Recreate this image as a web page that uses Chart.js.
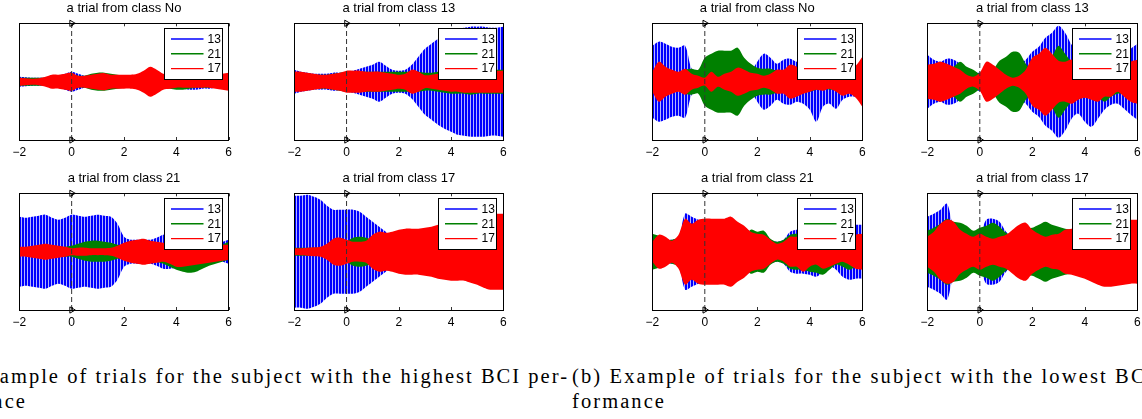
<!DOCTYPE html>
<html><head><meta charset="utf-8">
<script src="https://cdn.jsdelivr.net/npm/chart.js@4.4.1/dist/chart.umd.min.js"></script>
<style>
html,body{margin:0;padding:0;background:#fff;}
body{width:1142px;height:419px;overflow:hidden;position:relative;}
canvas{position:absolute;}
.cap{position:absolute;font-family:'Liberation Serif','Times New Roman',serif;font-size:20.5px;line-height:20.5px;white-space:nowrap;color:#000;}
</style></head><body>
<div class="cap" id="capA1"></div>
<div class="cap" id="capA2"></div>
<div class="cap" id="capB1"></div>
<div class="cap" id="capB2"></div>
<script>
// ---------------- data ----------------
const timeAxis = [-2,-1.75,-1.5,-1.25,-1,-0.75,-0.5,-0.25,0,0.25,0.5,0.75,1,1.25,1.5,1.75,2,2.25,2.5,2.75,3,3.25,3.5,3.75,4,4.25,4.5,4.75,5,5.25,5.5,5.75,6];
const xTicks = [-2,0,2,4,6];
const yLimits = [-58.35, 58.35];
const onsetTime = 0;
const seriesNames = ['13','21','17'];
const panelTitles = ['a trial from class No','a trial from class 13','a trial from class 21','a trial from class 17',
                     'a trial from class No','a trial from class 13','a trial from class 21','a trial from class 17'];
const captionA = ['(a) Example of trials for the subject with the highest BCI per-','formance'];
const captionB = ['(b) Example of trials for the subject with the lowest BCI per-','formance'];

// envelope amplitudes (upper; lower = -upper unless a _lo array is given)
const A_No_13 = [5,4.5,4,4,4,5,6,8,10,8,6,6,6,6,6,6,6,6,6,6,6,6,6,6,6,7,8,8,7,7,6,6,7];
const A_No_21 = [4,4,4,4,4,5,5,6,7,6,6,8,9,9,8,7,6,6,6,6,6,6,6,7,8,8,7,6,6,6,6,6,6];
const A_No_17 = [4,3.5,3,3.5,5,7,7,8,9,6,6,7,8,8.5,7,7,7,7,8,11,15,12,8,7,6,6,6,6,6,6,7,8,9];

const A_13_13 = [12,10,9,8,8,8,9,9,10,11,13,15,17,20,16,12,11,12,17,25,33,38,43,47,50,53,54,55,55,55,54,54,55];
const A_13_21 = [9,9,8,7,7,7,8,9,10,10,10,10,10,10,10,10,10,10,10,10,9,9,10,11,12,12,12,13,12,12,12,12,12];
const A_13_17 = [10,10,9,8,7,7,8,9,11,11,11,10,10,10,9,8,7,8,12,10,6.5,7,8,9,10,10,11,11,11,11,11,11,11];

const A_21_13 = [35,34,35,36,37,34,32,34,37,36,35,36,37,36,35,28,15,12,12,12,12,14,17,17,16,14,12,11,10,10,10,10,12];
const A_21_21 = [4,4,4,4,4,4,4,5,6,8,10,11,11,10,9,7,6,6,7,8,8,8,6,3,2,2,2,2,2,3,5,7,10];
const A_21_21_lo = [-4,-4,-4,-4,-4,-4,-4,-5,-5,-7,-9,-10,-10,-10,-9,-7,-6,-6,-7,-8,-9,-10,-12,-15,-18,-20,-21,-20,-17,-14,-12,-10,-8];
const A_21_17 = [5,5,6,7,8,7,6,5,3.5,4,4,3.5,3.5,3.5,4,6,9,11,12,13,11,10,9,7,5,4,4,4,4,6,8,7,7];
const A_21_17_lo = [-5,-5,-6,-7,-8,-7,-6,-5,-3.5,-4,-4,-3.5,-3.5,-3.5,-4,-6,-9,-11,-12,-13,-12,-11,-10,-12,-15,-15,-14,-13,-12,-11,-10,-9,-8];

const A_17_13 = [56,56,57,55,52,46,42,42,42,42,40,35,30,25,20,15,10,8,8,8,8,8,8,8,8,8,8,8,8,8,8,8,8];
const A_17_21 = [4,4,4,4,4,4,4,6,10,14,15,14,12,10,8,8,8,8,8,8,8,8,8,8,8,8,8,8,8,8,8,8,8];
const A_17_17 = [3.5,3.5,4,4.5,5,8,13,14,12,10,10,11,17,20,19,20,22,23,23,23,24,25,27,28,29,29,29,31,33,36,38,38,38];

const B_No_13 = [36,40,38,35,34,36,13,10,8,8,8,8,8,8,8,10,20,28,24,18,22,23,20,22,28,40,25,22,27,18,15,15,15];
const B_No_21 = [8,8,8,8,8,12,13,12,24,28,31,31,31,34,24,18,14,13,13,11,10,11,12,11,10,8,6,8,7,7,7,7,8];
const B_No_17 = [10,20,15,12,10,13,8,6,4,10,5,8,10,14,12,9,8,6,8,12,12,17,15,12,10,8,9,7,10,14,12,16,25];

const B_13_13 = [27,22,20,23,22,18,12,10,9,10,15,12,14,16,18,22,30,35,44,49,56,49,37,32,40,45,37,28,23,22,27,33,38];
const B_13_21 = [15,15,15,15,15,20,15,12,8,10,12,21,25,30,29,18,12,12,15,25,36,28,20,17,15,15,15,20,15,12,12,13,15];
const B_13_17 = [17,18,20,18,15,12,7,5,9,20,17,12,7,4,6,12,24,28,34,28,21,20,22,18,16,18,20,15,15,10,15,20,22];

const B_21_13 = [12,12,12,12,14,38,35,32,30,30,30,30,30,28,25,20,18,17,12,10,12,20,22,22,23,25,20,15,18,25,28,27,27];
const B_21_21 = [18,16,12,12,14,14,14,14,14,14,14,14,14,14,14,22,20,21,13,10,12,17,18,18,20,21,23,18,13,15,18,15,12];
const B_21_17 = [10,17,15,11,17,33,28,32,33,33,33,33,35,30,26,20,18,17,12,8,10,15,15,20,15,13,17,15,12,10,13,17,18];

const B_17_13 = [35,38,42,48,25,22,18,16,18,32,33,30,20,15,12,12,12,12,12,12,12,12,12,12,12,12,12,12,12,12,12,12,12];
const B_17_21 = [21,24,28,33,30,29,26,21,24,26,29,25,19,17,22,23,24,27,30,27,25,23,22,20,20,17,15,15,15,15,15,15,15];
const B_17_17 = [15,20,28,32,30,22,18,15,18,15,13,15,17,22,27,29,22,18,15,17,18,22,23,25,27,30,33,35,35,34,33,32,32];

// ---------------- layout / style ----------------
const COLS = [[19.3,228.7],[294.3,503.3],[652.3,862.3],[927.3,1137.3]];
const ROWS = [[23.3,140],[193.3,310]];
const panelSeries = [
  [[A_No_13],[A_No_21],[A_No_17]],
  [[A_13_13],[A_13_21],[A_13_17]],
  [[A_21_13],[A_21_21,A_21_21_lo],[A_21_17,A_21_17_lo]],
  [[A_17_13],[A_17_21],[A_17_17]],
  [[B_No_13],[B_No_21],[B_No_17]],
  [[B_13_13],[B_13_21],[B_13_17]],
  [[B_21_13],[B_21_21],[B_21_17]],
  [[B_17_13],[B_17_21],[B_17_17]]
];
const panelPos = [[0,0],[1,0],[0,1],[1,1],[2,0],[3,0],[2,1],[3,1]];
const lineColors = ['#0000ff','#008000','#ff0000'];
const SANS = "'Liberation Sans', Arial, sans-serif";

function stripePattern() {
  const c = document.createElement('canvas'); c.width = 3; c.height = 1;
  const g = c.getContext('2d');
  g.fillStyle = '#0000ff'; g.fillRect(0,0,2,1);
  g.fillStyle = '#b4b4ff'; g.fillRect(2,0,1,1);
  return g.createPattern(c, 'repeat');
}

function bandDatasets(hi, lo, fillStyle, order) {
  const loArr = lo || hi.map(v => -v);
  const common = {borderWidth:0, borderColor:'rgba(0,0,0,0)', pointRadius:0, tension:0.3, order};
  return [
    Object.assign({data: timeAxis.map((t,i)=>({x:t, y:hi[i]})), fill:false}, common),
    Object.assign({data: timeAxis.map((t,i)=>({x:t, y:loArr[i]})), fill:'-1', backgroundColor:fillStyle}, common)
  ];
}

const framePlugin = {
  id: 'frame',
  afterDraw(chart) {
    const {ctx, chartArea:a} = chart;
    const xs = chart.scales.x;
    ctx.save();
    ctx.strokeStyle = '#000'; ctx.lineWidth = 1;
    ctx.strokeRect(Math.round(a.left)+0.5, Math.round(a.top)+0.5, Math.round(a.right-a.left), Math.round(a.bottom-a.top));
    ctx.lineWidth = 0.8;
    ctx.beginPath();
    xTicks.forEach(v => {
      const px = Math.round(xs.getPixelForValue(v)) + 0.5;
      ctx.moveTo(px, a.bottom); ctx.lineTo(px, a.bottom - 3);
      ctx.moveTo(px, a.top); ctx.lineTo(px, a.top + 3);
    });
    ctx.stroke();
    // legend
    const x0 = Math.round(a.right - 65) + 0.5, y0 = Math.round(a.top + 5) + 0.5, w = 58, h = 51;
    ctx.fillStyle = '#fff';
    ctx.fillRect(x0, y0, w, h);
    ctx.lineWidth = 1; ctx.strokeStyle = '#000';
    ctx.strokeRect(x0, y0, w, h);
    ctx.font = '12px ' + SANS;
    ctx.textBaseline = 'middle'; ctx.textAlign = 'left';
    seriesNames.forEach((name, k) => {
      const yy = y0 + 10.5 + k * 14.8;
      ctx.strokeStyle = lineColors[k]; ctx.lineWidth = 1.4;
      ctx.beginPath(); ctx.moveTo(x0 + 6.5, yy); ctx.lineTo(x0 + 39, yy); ctx.stroke();
      ctx.fillStyle = '#000';
      ctx.fillText(name, x0 + 43, yy + 0.5);
    });
    ctx.restore();
  }
};

const charts = [];
const blueFill = stripePattern();

panelSeries.forEach((ser, p) => {
  const [ci, ri] = panelPos[p];
  const L = COLS[ci][0], R = COLS[ci][1], T = ROWS[ri][0], B = ROWS[ri][1];
  const padX = 24, padTop = 24, padBot = 24;
  const cv = document.createElement('canvas');
  const cw = Math.round(R - L + 2*padX), chh = Math.round(B - T + padTop + padBot);
  const cl = Math.round(L - padX), ct = Math.round(T - padTop);
  cv.width = cw; cv.height = chh;
  cv.style.left = cl + 'px'; cv.style.top = ct + 'px';
  cv.style.width = cw + 'px'; cv.style.height = chh + 'px';
  document.body.appendChild(cv);

  const datasets = [
    {data:[{x:onsetTime, y:yLimits[0]},{x:onsetTime, y:yLimits[1]}], borderColor:'#333333', borderWidth:1,
     borderDash:[5,3], fill:false, pointStyle:'triangle', pointRotation:90, pointRadius:3.6,
     pointBorderColor:'#000', pointBackgroundColor:'rgba(255,255,255,0)', pointBorderWidth:1, clip:false, order:0, tension:0},
    ...bandDatasets(ser[2][0], ser[2][1], lineColors[2], 1),
    ...bandDatasets(ser[1][0], ser[1][1], lineColors[1], 2),
    ...bandDatasets(ser[0][0], ser[0][1], blueFill, 3)
  ];

  const chart = new Chart(cv, {
    type: 'line',
    data: {datasets},
    options: {
      responsive:false, animation:false, devicePixelRatio:1,
      layout:{padding:{left:padX, right:padX, top:1.5, bottom:0}},
      plugins:{
        legend:{display:false}, tooltip:{enabled:false},
        title:{display:true, text:panelTitles[p], color:'#000', font:{family:SANS, size:13, weight:'normal'}, padding:{top:0, bottom:6}}
      },
      scales:{
        x:{type:'linear', min:xTicks[0], max:xTicks[xTicks.length-1],
           afterBuildTicks: s => { s.ticks = xTicks.map(v => ({value:v})); },
           ticks:{color:'#000', font:{family:SANS, size:12}, padding:5, autoSkip:false, maxRotation:0,
                  callback: v => v < 0 ? '\u2212' + Math.abs(v) : String(v)},
           grid:{display:false, drawTicks:false}, border:{display:false}},
        y:{type:'linear', min:yLimits[0], max:yLimits[1], display:false}
      }
    },
    plugins:[framePlugin]
  });
  // fit chart area to target box (canvas coords)
  const target = {left:L-cl, right:R-cl, top:T-ct, bottom:B-ct};
  for (let k = 0; k < 4; k++) {
    const a = chart.chartArea;
    const pad = chart.options.layout.padding;
    pad.left += target.left - a.left;
    pad.right += a.right - target.right;
    pad.bottom += a.bottom - target.bottom;
    chart.options.plugins.title.padding.bottom += target.top - a.top;
    chart.update('none');
  }
  charts.push(chart);
});

// ---------------- captions ----------------
const capFont = "20.5px 'Liberation Serif'";
const mctx = document.createElement('canvas').getContext('2d');
mctx.font = capFont;
const COLW = 632;
function spread(el, text, left) {
  el.textContent = text;
  const nat = mctx.measureText(text).width;
  const ls = (COLW - nat) / text.length;
  el.style.letterSpacing = ls.toFixed(3) + 'px';
  el.style.left = left + 'px';
  return ls;
}
const capA1 = document.getElementById('capA1'), capA2 = document.getElementById('capA2');
const capB1 = document.getElementById('capB1'), capB2 = document.getElementById('capB2');
const lsA = spread(capA1, captionA[0], 569 - COLW); capA1.style.top = '366px';
const lsB = spread(capB1, captionB[0], 572); capB1.style.top = '366px';
const ls2 = (lsA + lsB) / 2;
[capA2, capB2].forEach(el => { el.style.letterSpacing = ls2.toFixed(3) + 'px'; el.style.top = '391px'; });
capA2.textContent = captionA[1];
capA2.style.left = (27 - (mctx.measureText(captionA[1]).width + ls2 * captionA[1].length)) + 'px';
capB2.textContent = captionB[1]; capB2.style.left = '572px';
</script>
</body></html>
